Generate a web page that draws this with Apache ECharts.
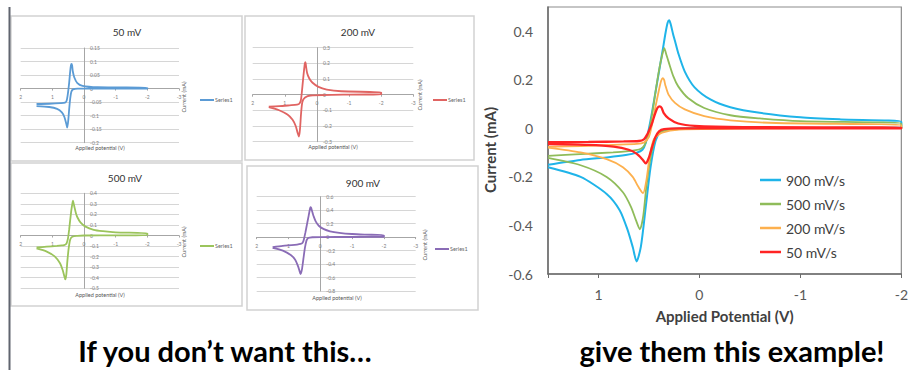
<!DOCTYPE html>
<html><head><meta charset="utf-8">
<script src="https://cdn.jsdelivr.net/npm/echarts@6/dist/echarts.min.js"></script>
<style>html,body{margin:0;padding:0;background:#fff}#c{width:911px;height:370px}</style>
</head><body><div id="c"></div>
<script>
// ---------- data ----------
const scanRates = ['900 mV/s', '500 mV/s', '200 mV/s', '50 mV/s'];
const panelTitles = ['50 mV', '200 mV', '500 mV', '900 mV'];
const mainXTicks = [1, 0, -1, -2];
const panelXRange = [-3, 2, 1];
const panelYRanges = [[-0.2, 0.15, 0.05], [-0.3, 0.3, 0.1], [-0.5, 0.4, 0.1], [-0.8, 0.6, 0.2]];

// 900 mV/s
const potential900 = [1.50, 1.18, 0.90, 0.73, 0.62, 0.565, 0.532, 0.50, 0.468, 0.435, 0.40, 0.365, 0.335, 0.315, 0.300, 0.285, 0.262, 0.242, 0.21, 0.145, 0.048, -0.113, -0.306, -0.597, -1.00, -1.40, -2.00, -2.00, -1.00, 0.00, 0.25, 0.33, 0.387, 0.435, 0.484, 0.532, 0.580, 0.623, 0.66, 0.71, 0.79, 0.919, 1.177, 1.50];
const current900 = [-0.150, -0.130, -0.119, -0.110, -0.100, -0.088, -0.060, 0.000, 0.070, 0.150, 0.235, 0.320, 0.395, 0.435, 0.445, 0.430, 0.390, 0.360, 0.310, 0.234, 0.169, 0.118, 0.087, 0.064, 0.046, 0.037, 0.027, 0.003, 0.002, 0.001, -0.002, -0.006, -0.014, -0.052, -0.160, -0.324, -0.487, -0.548, -0.490, -0.420, -0.337, -0.270, -0.200, -0.160];
// 500 mV/s
const potential500 = [1.50, 1.18, 0.855, 0.70, 0.63, 0.58, 0.548, 0.52, 0.50, 0.468, 0.435, 0.40, 0.37, 0.348, 0.325, 0.306, 0.258, 0.21, 0.113, -0.048, -0.306, -0.597, -1.00, -2.00, -2.00, -1.00, 0.00, 0.21, 0.371, 0.435, 0.484, 0.526, 0.558, 0.59, 0.629, 0.677, 0.758, 0.919, 1.177, 1.50];
const current500 = [-0.113, -0.106, -0.099, -0.094, -0.090, -0.084, -0.072, -0.045, -0.015, 0.060, 0.150, 0.240, 0.300, 0.330, 0.300, 0.275, 0.214, 0.173, 0.125, 0.084, 0.054, 0.041, 0.030, 0.020, 0.002, 0.001, 0.000, -0.003, -0.011, -0.038, -0.120, -0.242, -0.365, -0.416, -0.378, -0.324, -0.263, -0.200, -0.152, -0.122];
// 200 mV/s
const potential200 = [1.50, 1.177, 0.855, 0.62, 0.55, 0.50, 0.468, 0.435, 0.40, 0.38, 0.365, 0.350, 0.339, 0.306, 0.242, 0.145, -0.048, -0.306, -0.758, -2.00, -2.00, -1.00, 0.20, 0.37, 0.452, 0.494, 0.526, 0.558, 0.603, 0.661, 0.758, 0.919, 1.177, 1.50];
const current200 = [-0.076, -0.073, -0.068, -0.064, -0.058, -0.035, 0.020, 0.090, 0.160, 0.195, 0.207, 0.200, 0.180, 0.139, 0.105, 0.078, 0.050, 0.033, 0.022, 0.014, 0.002, 0.001, -0.005, -0.018, -0.045, -0.120, -0.215, -0.267, -0.242, -0.200, -0.160, -0.127, -0.099, -0.079];
// 50 mV/s
const potential50 = [1.50, 1.10, 0.75, 0.60, 0.55, 0.516, 0.49, 0.468, 0.44, 0.415, 0.394, 0.375, 0.355, 0.306, 0.21, 0.048, -0.435, -2.00, -2.00, -1.00, 0.20, 0.35, 0.40, 0.435, 0.468, 0.50, 0.532, 0.56, 0.62, 0.70, 0.85, 1.10, 1.50];
const current50 = [-0.057, -0.056, -0.054, -0.052, -0.045, -0.024, 0.000, 0.023, 0.060, 0.085, 0.091, 0.085, 0.064, 0.041, 0.020, 0.010, 0.005, 0.003, 0.000, 0.000, 0.000, -0.003, -0.012, -0.035, -0.075, -0.120, -0.144, -0.130, -0.105, -0.088, -0.075, -0.068, -0.065];

// ---------- build ----------
const zip = (a, b) => a.map((v, i) => [v, b[i]]);
const mainData = [zip(potential900, current900), zip(potential500, current500), zip(potential200, current200), zip(potential50, current50)];
const panelData = [mainData[3], mainData[2], mainData[1], mainData[0]];
const mainColors = ['#1fb4e9', '#8fbc5a', '#fdb04e', '#ff2424'];
const mainWidths = [2, 1.8, 1.8, 2.3];
const panelColors = ['#5b9bd5', '#e06462', '#9bc45c', '#8a6cb6'];
const FONT = 'Lato, "Open Sans", sans-serif';

const panels = [
  {grid: [20.7, 48, 158.3, 94.7], box: [11, 16, 231, 145], title: [127, 32], xt: [100, 148], yt: [184, 97], lg: [200, 100]},
  {grid: [252.7, 47.7, 160.6, 94], box: [245, 16, 229, 144], title: [358, 32], xt: [333, 147], yt: [420, 95], lg: [433, 100]},
  {grid: [20.7, 193.3, 158.3, 95], box: [11, 163, 231, 143], title: [125, 178], xt: [100, 295], yt: [184, 242], lg: [200, 246]},
  {grid: [256.7, 196.7, 159, 94.3], box: [247, 166, 231, 144], title: [363, 183], xt: [337, 298], yt: [425, 245], lg: [435, 249]}
];

const grids = [], xAxes = [], yAxes = [], series = [], graphics = [];
const txt = (x, y, text, size, opts = {}) => Object.assign({
  type: 'text', x, y, silent: true,
  style: Object.assign({text, fontSize: size, fontFamily: FONT, fill: '#404040',
    align: 'center', verticalAlign: 'middle', textAlign: 'center', textVerticalAlign: 'middle'}, opts.style || {})
}, opts.el || {});

panels.forEach((p, i) => {
  grids.push({left: p.grid[0], top: p.grid[1], width: p.grid[2], height: p.grid[3]});
  const yr = panelYRanges[i];
  // place the axis lines where the other axis is zero (Excel style crossing)
  const xOffset = -p.grid[3] * (0 - yr[0]) / (yr[1] - yr[0]);
  const yOffset = -p.grid[2] * (panelXRange[1] - 0) / (panelXRange[1] - panelXRange[0]);
  xAxes.push({gridIndex: i, type: 'value', min: panelXRange[0], max: panelXRange[1], interval: panelXRange[2], inverse: true,
    position: 'bottom', offset: xOffset,
    axisLine: {onZero: false, lineStyle: {color: '#a6a6a6', width: 1}},
    axisTick: {show: true, length: 2, lineStyle: {color: '#a6a6a6'}},
    axisLabel: {fontSize: 5, color: '#808080', margin: 6, fontFamily: FONT},
    splitLine: {show: false}});
  yAxes.push({gridIndex: i, type: 'value', min: yr[0], max: yr[1], interval: yr[2],
    position: 'left', offset: yOffset,
    axisLine: {show: true, onZero: false, lineStyle: {color: '#a6a6a6', width: 1}},
    axisTick: {show: false},
    axisLabel: {inside: true, fontSize: 5, color: '#808080', margin: 6, fontFamily: FONT},
    splitLine: {show: true, lineStyle: {color: '#d6d6d6', width: 1}}});
  series.push({type: 'line', name: 'Series1', xAxisIndex: i, yAxisIndex: i, data: panelData[i],
    showSymbol: false, symbol: 'none', smooth: 0.25, clip: false,
    lineStyle: {color: panelColors[i], width: 1.8}, itemStyle: {color: panelColors[i]}});
  graphics.push({type: 'rect', silent: true, shape: {x: p.box[0], y: p.box[1], width: p.box[2], height: p.box[3]},
    style: {fill: 'none', stroke: '#d2d2d2', lineWidth: 1.5}});
  graphics.push(txt(p.title[0], p.title[1], panelTitles[i], 10, {style: {fill: '#333'}}));
  graphics.push(txt(p.xt[0], p.xt[1], 'Applied potential (V)', 5.5, {style: {fill: '#555'}}));
  graphics.push(txt(p.yt[0], p.yt[1], 'Current (mA)', 5.5, {style: {fill: '#555'}, el: {rotation: Math.PI / 2}}));
  graphics.push({type: 'line', silent: true, shape: {x1: p.lg[0], y1: p.lg[1], x2: p.lg[0] + 14, y2: p.lg[1]},
    style: {stroke: panelColors[i], lineWidth: 2}});
  graphics.push(txt(p.lg[0] + 15, p.lg[1], 'Series1', 5.5, {style: {fill: '#666', align: 'left', textAlign: 'left'}}));
});

// main chart
grids.push({left: 548, top: 7, width: 360, height: 267, show: true, borderColor: '#8c8c8c', borderWidth: 1.2, backgroundColor: 'transparent'});
xAxes.push({gridIndex: 4, type: 'value', min: -2, max: 1.5, interval: 1, inverse: true,
  name: 'Applied Potential (V)', nameLocation: 'middle', nameGap: 34,
  nameTextStyle: {fontSize: 15, fontWeight: 'bold', color: '#404040', fontFamily: FONT},
  axisLine: {onZero: false, lineStyle: {color: '#6b6b6b', width: 1.5}},
  axisTick: {show: true, length: 4, lineStyle: {color: '#6b6b6b'}},
  axisLabel: {fontSize: 14, color: '#595959', margin: 13, fontFamily: FONT,
    formatter: v => mainXTicks.includes(v) ? String(v) : ''},
  splitLine: {show: false}});
yAxes.push({gridIndex: 4, type: 'value', min: -0.6, max: 0.5, interval: 0.2,
  axisLine: {show: true, onZero: false, lineStyle: {color: '#6b6b6b', width: 1.5}},
  axisTick: {show: false},
  axisLabel: {fontSize: 14, color: '#595959', margin: 15, fontFamily: FONT, showMaxLabel: false},
  splitLine: {show: false}});
mainData.forEach((d, k) => {
  series.push({type: 'line', name: scanRates[k], xAxisIndex: 4, yAxisIndex: 4, data: d,
    showSymbol: false, symbol: 'none', smooth: 0.25, z: 2 + k,
    lineStyle: {color: mainColors[k], width: mainWidths[k]}, itemStyle: {color: mainColors[k]}});
});
graphics.push(txt(490, 150, 'Current (mA)', 15, {style: {fontWeight: 'bold'}, el: {rotation: Math.PI / 2}}));

// page decorations
graphics.push({type: 'line', silent: true, shape: {x1: 9.5, y1: 7, x2: 9.5, y2: 370}, style: {stroke: '#60656f', lineWidth: 2}});
graphics.push(txt(225, 350, 'If you don\u2019t want this\u2026', 29, {style: {fontWeight: 'bold', fill: '#000'}}));
graphics.push(txt(732, 350, 'give them this example!', 29, {style: {fontWeight: 'bold', fill: '#000'}}));

const chart = echarts.init(document.getElementById('c'), null, {renderer: 'svg'});
chart.setOption({
  animation: false,
  backgroundColor: '#fff',
  grid: grids, xAxis: xAxes, yAxis: yAxes, series,
  legend: {data: scanRates, orient: 'vertical', left: 755, top: 168, itemWidth: 21, itemHeight: 2.5, itemGap: 10,
    icon: 'rect', textStyle: {fontSize: 14, color: '#404040', fontFamily: FONT}},
  graphic: graphics
});
</script></body></html>
